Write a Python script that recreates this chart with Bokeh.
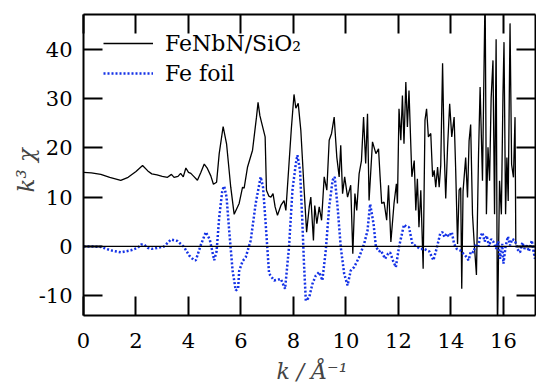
import math
from bokeh.plotting import figure
from bokeh.models import (Range1d, LinearAxis, FixedTicker, Span, Label,
                          Legend, LegendItem)
from bokeh.embed import file_html
from bokeh.resources import INLINE

# ---- data ----
k_sample = [0.0, 0.3, 0.66, 1.0, 1.42, 1.7, 2.0, 2.25, 2.45, 2.6, 2.8, 3.0, 3.2, 3.35,
            3.45, 3.6, 3.7, 3.8, 3.9, 4.0, 4.09, 4.2, 4.34, 4.47, 4.6, 4.72, 4.85, 4.95,
            5.07, 5.17, 5.32, 5.45, 5.61, 5.74, 5.93, 6.06, 6.12, 6.25, 6.44, 6.59, 6.65,
            6.72, 6.79, 6.92, 6.97, 7.06, 7.14, 7.22, 7.3, 7.39, 7.52, 7.64, 7.71, 7.83,
            7.92, 8.02, 8.09, 8.18, 8.28, 8.4, 8.5, 8.6, 8.66, 8.76, 8.81, 8.89, 8.98,
            9.07, 9.17, 9.27, 9.36, 9.45, 9.55, 9.65, 9.74, 9.8, 9.87, 9.95, 10.06, 10.18,
            10.26, 10.34, 10.41, 10.5, 10.59, 10.67, 10.75, 10.82, 10.88, 11.01, 11.14,
            11.24, 11.3, 11.36, 11.45, 11.55, 11.62, 11.71, 11.83, 11.92, 11.96, 12.02,
            12.09, 12.15, 12.21, 12.28, 12.34, 12.4, 12.51, 12.6, 12.66, 12.72, 12.78,
            12.85, 12.94, 13.01, 13.07, 13.14, 13.23, 13.3, 13.36, 13.42, 13.49, 13.55,
            13.61, 13.68, 13.74, 13.8, 13.87, 13.95, 14.03, 14.12, 14.18, 14.25, 14.31,
            14.37, 14.41, 14.46, 14.56, 14.63, 14.69, 14.75, 14.82, 14.88, 14.97, 15.05,
            15.11, 15.2, 15.3, 15.35, 15.41, 15.47, 15.53, 15.6, 15.66, 15.72, 15.77,
            15.85, 15.92, 15.98, 16.02, 16.08, 16.13, 16.18, 16.25, 16.31, 16.38, 16.44,
            16.47]
chi_sample = [15.0, 14.9, 14.6, 14.0, 13.4, 14.0, 15.2, 16.4, 15.3, 14.7, 14.5, 14.2,
              14.0, 14.6, 14.0, 14.2, 14.8, 14.1, 15.9, 15.0, 14.8, 14.2, 13.4, 15.0,
              16.7, 15.8, 14.3, 12.6, 13.0, 18.8, 24.3, 20.8, 12.0, 6.5, 8.7, 12.0, 11.8,
              16.1, 19.5, 26.2, 29.2, 26.5, 25.0, 22.2, 11.4, 10.2, 10.0, 10.7, 8.0, 6.3,
              8.3, 9.3, 7.3, 16.8, 24.0, 30.8, 28.0, 29.0, 23.5, 12.0, 2.9, 8.0, 10.0,
              1.2, 8.3, 4.6, 8.0, 5.3, 14.1, 11.4, 21.5, 22.9, 26.2, 18.1, 14.1, 20.5,
              10.7, 14.1, 10.0, 12.4, -1.5, 10.7, 7.3, 14.7, 17.4, 26.2, 16.8, 26.9, 9.3,
              21.2, 18.8, 19.8, 14.1, 8.7, 9.0, 5.3, 12.4, 0.9, 8.7, 12.7, 8.7, 27.9,
              21.5, 30.6, 20.8, 33.3, 24.2, 31.6, 14.1, 17.4, 7.3, 13.7, 3.9, 11.4, -4.5,
              25.6, 27.9, 22.2, 22.9, 14.1, 15.4, 12.0, 16.1, 12.0, 16.4, 37.1, 19.5,
              9.7, 20.1, 28.9, 22.2, 26.2, 15.4, 0.5, 11.4, 11.9, -8.6, 11.2, 18.0, 9.9,
              21.4, 24.7, 6.5, 1.1, -5.8, 18.7, 32.3, 13.3, 52.0, 6.5, 20.1, 13.3, 30.0,
              37.7, 6.5, 42.0, -18.0, 13.3, 6.5, 30.6, 41.4, 6.5, 18.0, 9.2, 45.2, 16.6,
              14.0, 26.2, 0.4]

k_foil = [0.0, 0.3, 0.66, 1.04, 1.42, 1.8, 2.06, 2.2, 2.3, 2.44, 2.6, 2.82, 3.07, 3.33,
          3.58, 3.83, 4.02, 4.21, 4.28, 4.47, 4.66, 4.81, 4.98, 5.07, 5.17, 5.29, 5.36,
          5.45, 5.55, 5.68, 5.8, 5.89, 5.93, 6.06, 6.18, 6.37, 6.56, 6.75, 6.84, 6.94,
          7.07, 7.26, 7.52, 7.68, 7.83, 7.96, 8.09, 8.15, 8.25, 8.34, 8.4, 8.47, 8.6,
          8.72, 8.85, 8.98, 9.1, 9.23, 9.36, 9.49, 9.57, 9.68, 9.8, 9.93, 10.06, 10.18,
          10.31, 10.5, 10.69, 10.82, 10.92, 11.05, 11.14, 11.26, 11.33, 11.49, 11.6,
          11.68, 11.8, 11.9, 12.02, 12.21, 12.3, 12.4, 12.53, 12.72, 12.82, 12.98,
          13.08, 13.17, 13.33, 13.45, 13.59, 13.68, 13.75, 13.84, 13.92, 14.03, 14.12,
          14.22, 14.35, 14.48, 14.57, 14.67, 14.76, 14.86, 14.95, 15.03, 15.11, 15.2,
          15.28, 15.36, 15.45, 15.53, 15.62, 15.72, 15.8, 15.87, 15.95, 16.0, 16.08,
          16.17, 16.25, 16.33, 16.44, 16.52, 16.63, 16.72, 16.8, 16.89, 16.97, 17.08,
          17.14, 17.2, 17.25]
chi_foil = [0.0, 0.0, -0.1, -0.8, -1.2, -0.8, -0.3, 0.4, 0.4, -0.3, -0.5, -0.3, 0.0,
            1.4, 1.1, -0.1, -1.8, -2.8, -2.8, 0.3, 2.9, 1.4, -2.8, -1.0, 5.9, 11.4, 12.2,
            10.0, 3.2, -4.9, -8.9, -8.6, -5.0, -3.0, -2.2, 1.2, 8.7, 14.1, 12.0, 4.6,
            -5.5, -6.9, -6.6, -8.6, -0.1, 11.4, 16.8, 18.5, 15.4, 4.6, -3.5, -11.0,
            -10.3, -7.6, -5.9, -5.2, -6.9, -0.8, 8.0, 13.4, 14.1, 8.0, -0.1, -5.5, -7.9,
            -4.9, -4.2, -2.2, 0.5, 3.2, 8.6, 4.6, -0.1, -1.0, -0.8, -2.5, -1.5, -1.2,
            -3.0, -4.2, -0.1, 4.4, 4.0, 3.9, 0.5, -0.1, -0.5, -0.5, -0.8, -1.0, -2.8,
            -0.5, 2.6, 2.9, 1.9, 2.6, 2.0, 2.9, 0.5, -0.5, -0.8, -1.5, -2.0, -2.8, -1.0,
            -1.2, 0.5, -0.3, 1.9, 2.8, 1.0, 2.2, 0.0, 1.5, 0.9, -0.5, 1.0, -2.5, 0.5,
            -3.5, 0.0, 2.0, 0.2, 1.5, 1.2, -0.5, -1.2, 0.8, -0.5, 0.2, -1.0, 1.2, -0.8,
            -2.5, 1.0]

x_ticks = [0, 2, 4, 6, 8, 10, 12, 14, 16]
y_ticks = [-10, 0, 10, 20, 30, 40]
y_tick_labels = {-10: "-10", 0: "0", 10: "10", 20: "20", 30: "30", 40: "40"}
label_sample = "FeNbN/SiO\u2082"
label_foil = "Fe foil"
y_title = "k\u00b3 \u03c7"
x_title = "k / \u00c5\u207b\u00b9"

FONT = "DejaVu Serif"
FS = "21px"

p = figure(width=536, height=383, output_backend="svg", toolbar_location=None,
           x_range=Range1d(0, 17.22), y_range=Range1d(-14, 47),
           min_border_left=83, min_border_right=1, min_border_top=14,
           min_border_bottom=68)
p.background_fill_color = "white"
p.border_fill_color = "white"
p.outline_line_color = None
p.grid.visible = False


def style_axis(ax, ticks, show_labels):
    ax.ticker = FixedTicker(ticks=ticks)
    ax.axis_line_color = "black"
    ax.axis_line_width = 2
    ax.major_tick_line_color = "black"
    ax.major_tick_line_width = 2
    ax.major_tick_in = 19
    ax.major_tick_out = 0
    ax.minor_tick_line_color = None
    ax.major_label_text_font = FONT
    ax.major_label_text_color = "black"
    if show_labels:
        ax.major_label_text_font_size = FS
    else:
        ax.major_label_text_font_size = "0px"
        ax.major_label_standoff = 0


style_axis(p.xaxis[0], x_ticks, True)
style_axis(p.yaxis[0], y_ticks, True)
p.yaxis[0].major_label_overrides = y_tick_labels
p.xaxis[0].major_label_standoff = 17
p.yaxis[0].major_label_standoff = 11

top = LinearAxis()
style_axis(top, x_ticks, False)
p.add_layout(top, "above")
right = LinearAxis()
style_axis(right, y_ticks, False)
p.add_layout(right, "right")

p.add_layout(Span(location=0, dimension="width", line_color="black", line_width=1.3))

r_sample = p.line(k_sample, chi_sample, line_color="black", line_width=1.3)
r_foil = p.line(k_foil, chi_foil, line_color="#1432e6", line_width=2.5,
                line_dash="2 2")

legend = Legend(items=[LegendItem(label=label_sample, renderers=[r_sample]),
                       LegendItem(label=label_foil, renderers=[r_foil])],
                location=(20, 227), orientation="vertical")
legend.label_text_font = FONT
legend.label_text_font_size = "22px"
legend.label_text_color = "black"
legend.glyph_width = 50
legend.glyph_height = 30
legend.label_height = 30
legend.label_standoff = 12
legend.spacing = 0
legend.padding = 0
legend.margin = 0
legend.border_line_color = None
legend.background_fill_alpha = 0
p.add_layout(legend, "center")

# axis titles (canvas position, kept in the side panels so they are not clipped)
p.add_layout(Label(x=25, y=192, x_units="canvas", y_units="canvas", text=y_title,
                   text_font=FONT, text_font_size="23px", text_font_style="italic",
                   angle=math.pi / 2, text_baseline="alphabetic",
                   text_align="left"), "left")
p.add_layout(Label(x=276, y=371, x_units="canvas", y_units="canvas", text=x_title,
                   text_font=FONT, text_font_size="22px", text_font_style="italic",
                   text_baseline="alphabetic", text_align="left"), "below")

open("out.html", "w").write(file_html(p, INLINE))
